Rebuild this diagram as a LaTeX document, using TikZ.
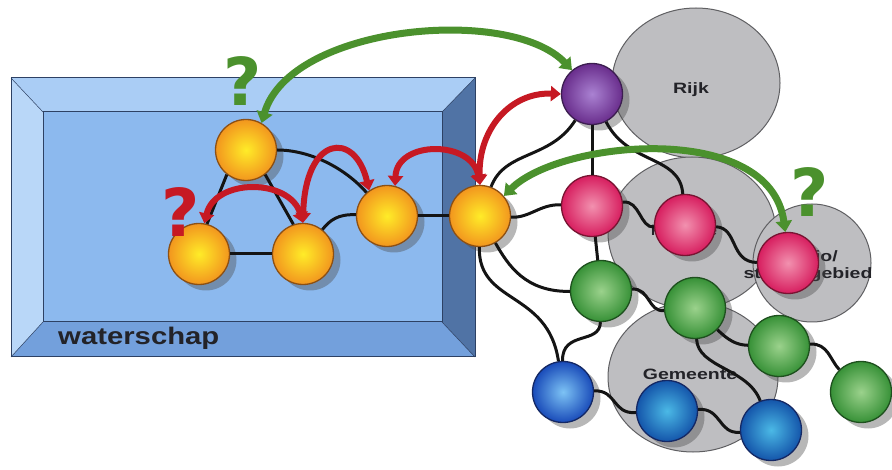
\documentclass[tikz,border=0pt]{standalone}
\usepackage{fontspec}
\setmainfont{Liberation Sans}
\newfontfamily\qfont{DejaVu Sans}
\usetikzlibrary{shadows,arrows.meta,shapes.geometric}
\definecolor{boxface}{RGB}{140,185,238}
\definecolor{boxtop}{RGB}{170,205,245}
\definecolor{boxleft}{RGB}{185,215,248}
\definecolor{boxbottom}{RGB}{115,160,220}
\definecolor{boxright}{RGB}{80,115,165}
\definecolor{boxedge}{RGB}{45,65,100}
\definecolor{zonefill}{RGB}{190,190,193}
\definecolor{zoneedge}{RGB}{95,95,98}
\definecolor{orin}{RGB}{255,236,40}
\definecolor{orout}{RGB}{242,150,30}
\definecolor{oredge}{RGB}{140,80,20}
\definecolor{puin}{RGB}{170,130,210}
\definecolor{puout}{RGB}{105,45,140}
\definecolor{puedge}{RGB}{60,30,80}
\definecolor{piin}{RGB}{242,145,175}
\definecolor{piout}{RGB}{215,30,95}
\definecolor{piedge}{RGB}{120,20,50}
\definecolor{grin}{RGB}{155,210,140}
\definecolor{grout}{RGB}{55,145,55}
\definecolor{gredge}{RGB}{30,80,30}
\definecolor{blin}{RGB}{125,195,245}
\definecolor{blout}{RGB}{25,75,185}
\definecolor{tlin}{RGB}{75,185,230}
\definecolor{tlout}{RGB}{20,85,170}
\definecolor{bledge}{RGB}{20,40,100}
\definecolor{redc}{RGB}{198,25,35}
\definecolor{greenc}{RGB}{75,145,45}
\definecolor{labelc}{RGB}{35,35,40}
\tikzset{
  zone/.style={ellipse, inner sep=0pt, fill=zonefill, draw=zoneedge, line width=1pt},
  zonelabel/.style={inner sep=0pt, text=labelc, font=\bfseries\fontsize{15}{17}\selectfont, xscale=1.3, align=center},
  ball/.style={circle, minimum size=61pt, inner sep=0pt, line width=1.3pt,
    drop shadow={shadow xshift=7pt, shadow yshift=-6pt, opacity=0.4, fill=black!70}},
  orangeball/.style={ball, draw=oredge, inner color=orin, outer color=orout},
  purpleball/.style={ball, draw=puedge, inner color=puin, outer color=puout},
  pinkball/.style={ball, draw=piedge, inner color=piin, outer color=piout},
  greenball/.style={ball, draw=gredge, inner color=grin, outer color=grout},
  blueball/.style={ball, draw=bledge, inner color=blin, outer color=blout},
  tealball/.style={ball, draw=bledge, inner color=tlin, outer color=tlout},
  link/.style={draw=black!92, line width=3pt},
  redlink/.style={draw=redc, line width=6pt, {Triangle[width=15pt,length=10pt]}-{Triangle[width=15pt,length=10pt]}},
  greenlink/.style={draw=greenc, line width=7pt, {Triangle[width=16pt,length=11pt]}-{Triangle[width=16pt,length=11pt]}},
  qmark/.style={inner sep=0pt, font=\qfont\bfseries\fontsize{66}{66}\selectfont}
}
\begin{document}
\begin{tikzpicture}[x=1pt,y=-1pt]
\useasboundingbox (0,0) rectangle (892,470);
% gray zones
\node[zone, minimum width=168pt, minimum height=150pt] (rijk) at (696,83) {};
\node[zone, minimum width=168pt, minimum height=152pt] (prov) at (692,233) {};
\node[zone, minimum width=170pt, minimum height=150pt] (gem) at (693,377) {};
\node[zone, minimum width=118pt, minimum height=118pt] (regio) at (812,263) {};
\node[zonelabel] (trijk) at (691,90) {Rijk};
\node[zonelabel, xscale=0.75] (tprov) at (684,230) {Provincie};
\node[zonelabel] (tregio) at (808,266) {Regio/\\stroomgebied};
\node[zonelabel] (tgem) at (690,374) {Gemeente};
% waterschap box
\fill[boxface] (43,112) rectangle (442,322);
\fill[boxtop] (11,78) -- (475,78) -- (442,112) -- (43,112) -- cycle;
\fill[boxleft] (11,78) -- (43,112) -- (43,322) -- (11,357) -- cycle;
\fill[boxbottom] (11,357) -- (43,322) -- (442,322) -- (475,357) -- cycle;
\fill[boxright] (475,78) -- (475,357) -- (442,322) -- (442,112) -- cycle;
\draw[boxedge, line width=1pt] (11,78) rectangle (475,357);
\draw[boxedge, line width=1pt] (43,112) rectangle (442,322);
\draw[boxedge, line width=0.5pt] (11,78) -- (43,112) (475,78) -- (442,112) (11,357) -- (43,322) (475,357) -- (442,322);
\node[inner sep=0pt, anchor=base west, text=labelc, font=\bfseries\fontsize{24}{26}\selectfont, xscale=1.22] (tws) at (58,345) {waterschap};
% nodes
\node[orangeball] (O1) at (246,150) {};
\node[orangeball] (O2) at (199,254) {};
\node[orangeball] (O3) at (303,254) {};
\node[orangeball] (O4) at (387,216) {};
\node[orangeball] (O5) at (480,216) {};
\node[purpleball] (P) at (592,94) {};
\node[pinkball] (K1) at (592,206) {};
\node[pinkball] (K2) at (685,225) {};
\node[pinkball] (K3) at (788,263) {};
\node[greenball] (G1) at (601,291) {};
\node[greenball] (G2) at (695,308) {};
\node[greenball] (G3) at (779,346) {};
\node[greenball] (G4) at (861,392) {};
\node[blueball] (B1) at (563,392) {};
\node[tealball] (B2) at (667,411) {};
\node[tealball] (B3) at (771,430) {};
% black connectors
\draw[link] (O1) .. controls (310,150) and (345,168) .. (O4);
\draw[link] (O1.232) -- (O2.75);
\draw[link] (O1.308) -- (O3.108);
\draw[link] (O2) -- (O3);
\draw[link] (O3) .. controls (330,220) and (338,214) .. (O4);
\draw[link] (O4) -- (O5);
\draw[link] (O5) .. controls (530,218) and (540,204) .. (K1);
\draw[link] (O5) .. controls (505,150) and (550,160) .. (P);
\draw[link] (P) -- (K1);
\draw[link] (P) .. controls (628,165) and (680,155) .. (K2);
\draw[link] (K1) .. controls (640,200) and (640,228) .. (K2);
\draw[link] (K2) .. controls (738,228) and (730,262) .. (K3);
\draw[link] (K1) -- (G1);
\draw[link] (G1) .. controls (650,288) and (648,312) .. (G2);
\draw[link] (G2) .. controls (728,340) and (736,345) .. (G3);
\draw[link] (G3) .. controls (828,343) and (830,360) .. (G4);
\draw[link] (G2) .. controls (698,368) and (748,368) .. (B3);
\draw[link] (G1) .. controls (600,345) and (562,330) .. (B1);
\draw[link] (B1) .. controls (617,390) and (612,414) .. (B2);
\draw[link] (B2) .. controls (722,408) and (718,434) .. (B3);
\draw[link] (O5) .. controls (508,265) and (525,292) .. (G1);
\draw[link] (O5) .. controls (478,305) and (548,290) .. (B1);
% red arrows
\draw[redlink] (O2.80) .. controls (215,178) and (290,178) .. (O3.90);
\draw[redlink] (O3.90) .. controls (305,135) and (355,130) .. (O4.125);
\draw[redlink] (O4.75) .. controls (397,140) and (472,140) .. (O5.90);
\draw[redlink] (O5.90) .. controls (478,130) and (510,92) .. (P.180);
% green arrows
\draw[greenlink] (O1.60) .. controls (290,25) and (510,5) .. (P.130);
\draw[greenlink] (O5.40) .. controls (560,140) and (770,120) .. (K3.95);
% question marks
\node[qmark, text=greenc] (q1) at (243,81) {?};
\node[qmark, text=greenc] (q2) at (810,192) {?};
\node[qmark, text=redc] (q3) at (181,212) {?};
\end{tikzpicture}
\end{document}
